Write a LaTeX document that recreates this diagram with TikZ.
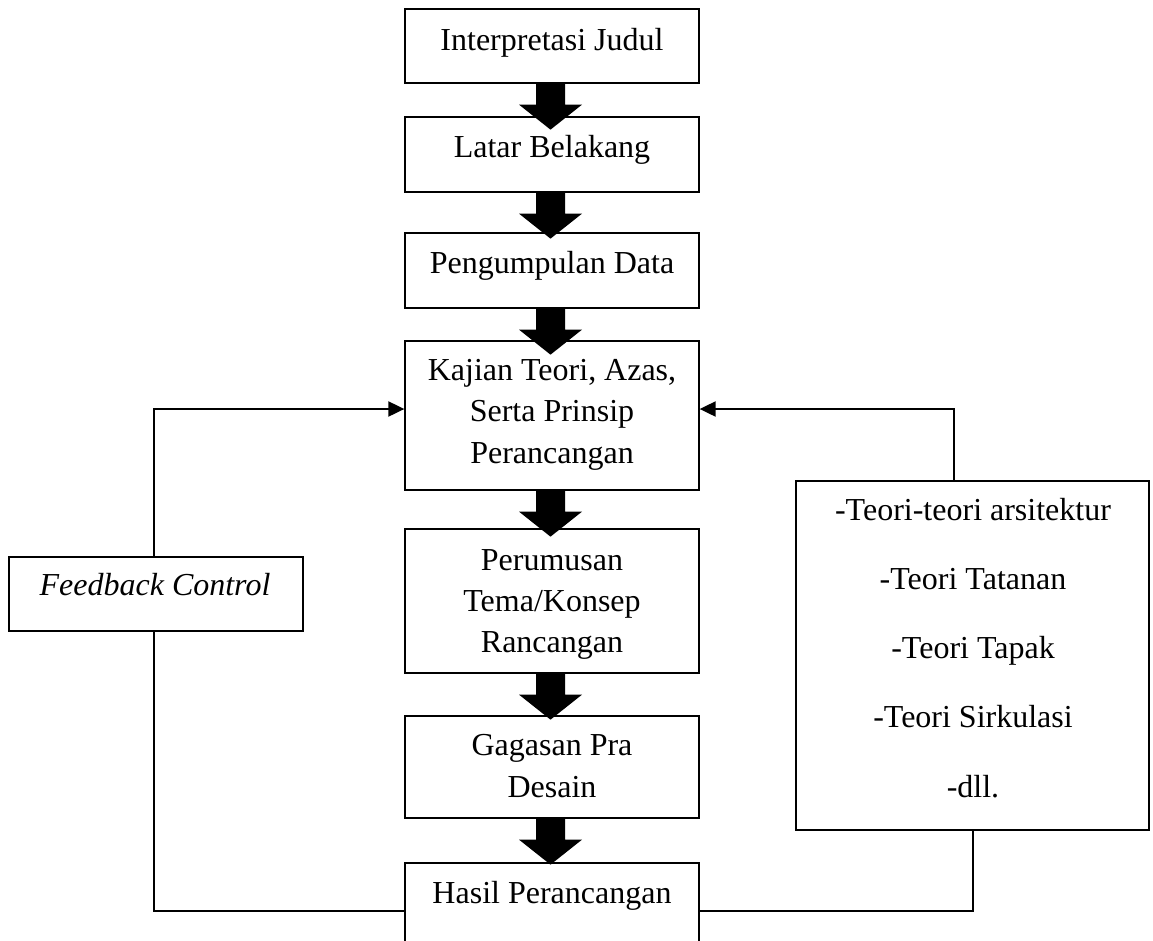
\documentclass[tikz,border=0pt]{standalone}
\usepackage{fontspec}
\setmainfont{Liberation Serif}
\usetikzlibrary{arrows.meta,calc}
\newcommand\blockdown[1]{%
  \fill ($(#1.south)+(-16,-1)$) -- ($(#1.south)+(-16,21)$) -- ($(#1.south)+(-33,21)$)
     -- ($(#1.south)+(-1.5,46)$) -- ($(#1.south)+(30,21)$) -- ($(#1.south)+(13,21)$)
     -- ($(#1.south)+(13,-1)$) -- cycle;}
\tikzset{
  box/.style={draw, line width=1.3pt, inner sep=0pt, minimum width=294pt},
  txt/.style={inner sep=0pt, anchor=base, font=\fontsize{32}{38}\selectfont},
  conn/.style={line width=2pt},
  tip/.style={-{Triangle[length=16pt,width=15pt]}}
}
\begin{document}
\begin{tikzpicture}[x=1pt,y=-1pt]
\useasboundingbox (0,0) rectangle (1153,940);
\clip (0,0) rectangle (1153,940);
% boxes
\node[box, minimum height=74pt]  (b1) at (552,46) {};
\node[box, minimum height=75pt]  (b2) at (552,154.5) {};
\node[box, minimum height=75pt]  (b3) at (552,270.5) {};
\node[box, minimum height=149pt] (b4) at (552,415.5) {};
\node[box, minimum height=144pt] (b5) at (552,601) {};
\node[box, minimum height=102pt] (b6) at (552,767) {};
\node[box, minimum height=127pt] (b7) at (552,926.5) {};
\node[box, minimum height=74pt]  (fb) at (156,594) {};
\node[box, minimum width=353pt, minimum height=349pt] (th) at (972.5,655.5) {};
% texts
\node[txt] (t1) at (552,50) {Interpretasi Judul};
\node[txt] (t2) at (552,157) {Latar Belakang};
\node[txt] (t3) at (552,273) {Pengumpulan Data};
\node[txt] (t4a) at (552,380) {Kajian Teori, Azas,};
\node[txt] (t4b) at (552,421) {Serta Prinsip};
\node[txt] (t4c) at (552,463) {Perancangan};
\node[txt] (t5a) at (552,570) {Perumusan};
\node[txt] (t5b) at (552,611) {Tema/Konsep};
\node[txt] (t5c) at (552,652) {Rancangan};
\node[txt] (t6a) at (552,755) {Gagasan Pra};
\node[txt] (t6b) at (552,797) {Desain};
\node[txt] (t7) at (552,903) {Hasil Perancangan};
\node[txt, font=\fontsize{32}{38}\selectfont\itshape] (tf) at (155,595) {Feedback Control};
\node[txt] (th1) at (973,520) {-Teori-teori arsitektur};
\node[txt] (th2) at (973,589) {-Teori Tatanan};
\node[txt] (th3) at (973,658) {-Teori Tapak};
\node[txt] (th4) at (973,727) {-Teori Sirkulasi};
\node[txt] (th5) at (973,797) {-dll.};
% block arrows
\blockdown{b1}
\blockdown{b2}
\blockdown{b3}
\blockdown{b4}
\blockdown{b5}
\blockdown{b6}
% connectors
\draw[conn,tip] ([xshift=-2pt]fb.north) |- ([yshift=6.5pt]b4.west);
\draw[conn] ([xshift=-2pt]fb.south) |- ([yshift=15.5pt]b7.west);
\draw[conn,tip] ([xshift=-18.5pt]th.north) |- ([yshift=6.5pt]b4.east);
\draw[conn] (th.south) |- ([yshift=15.5pt]b7.east);
\end{tikzpicture}
\end{document}
